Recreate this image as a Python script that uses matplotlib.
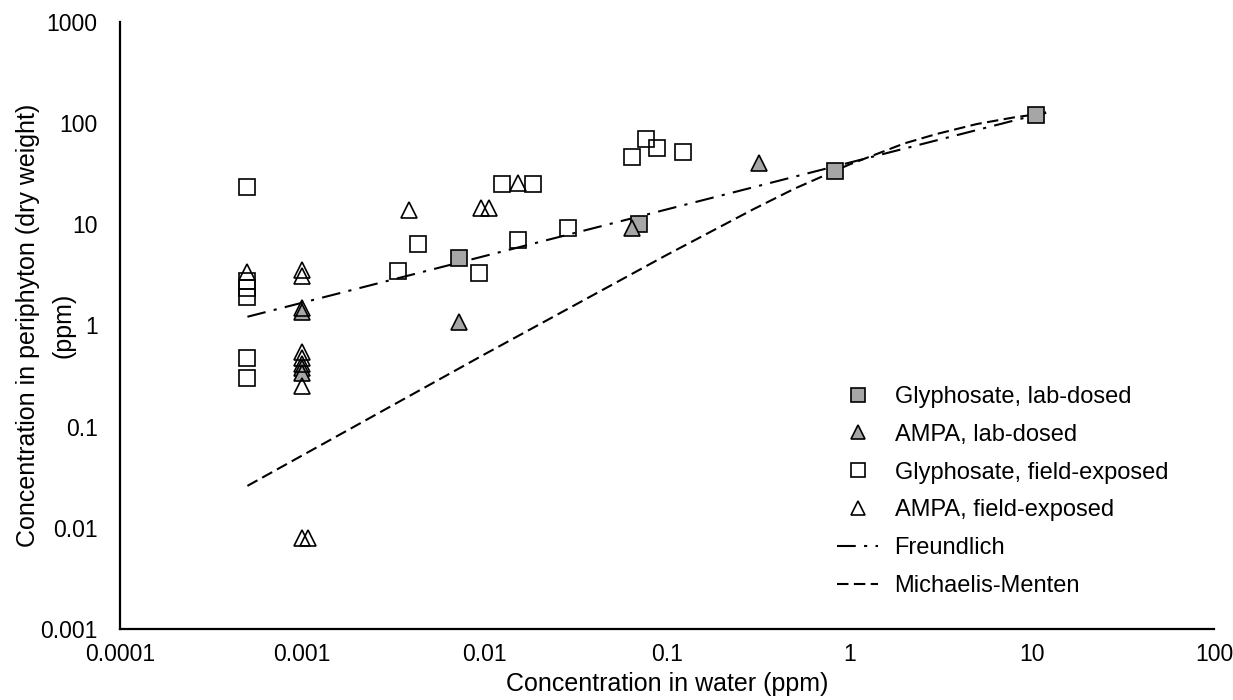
"""
Glyphosate / AMPA in periphyton vs. water, log-log scatter with fitted isotherms
"""
import matplotlib
matplotlib.use('Agg')
import matplotlib.pyplot as plt

plt.rcParams['font.family'] = ['Liberation Sans', 'DejaVu Sans']

# Lab-dosed series (grey filled)
gly_lab_x = [0.0072, 0.070, 0.835, 10.5]
gly_lab_y = [4.6, 10.1, 34, 120]

ampa_lab_x = [0.001, 0.001, 0.001, 0.0072, 0.064, 0.32]
ampa_lab_y = [1.35, 0.38, 0.34, 1.09, 9.2, 40]

# Field-exposed series (open markers)
gly_field_x = [0.0005, 0.0005, 0.0005, 0.0005, 0.0005, 0.0005,
               0.00335, 0.0043, 0.00935, 0.01245, 0.0185, 0.0152,
               0.0285, 0.0644, 0.0771, 0.088, 0.122]
gly_field_y = [23.6, 2.78, 2.34, 1.93, 0.475, 0.30,
               3.46, 6.36, 3.33, 25.1, 25.1, 7.0,
               9.15, 46, 69.3, 56.5, 51.6]

ampa_field_x = [0.0005, 0.001, 0.001, 0.001, 0.001, 0.001, 0.001, 0.001,
                0.001, 0.00107, 0.00385, 0.0095, 0.0105, 0.0153]
ampa_field_y = [3.4, 3.5, 3.1, 1.5, 0.55, 0.475, 0.42, 0.25,
                0.008, 0.008, 13.9, 14.4, 14.4, 25.5]

# Fitted curves, values
freund_x = [0.0005, 12]
freund_y = [1.22, 128]

mm_x = [0.0005, 0.001, 0.01, 0.1, 0.3, 0.5, 1, 2, 3, 5, 8, 12]
mm_y = [0.026, 0.052, 0.52, 5.0, 14.2, 22.5, 39, 63, 78, 98, 114, 126]

x_ticks = [0.0001, 0.001, 0.01, 0.1, 1, 10, 100]
x_ticklabels = ['0.0001', '0.001', '0.01', '0.1', '1', '10', '100']
y_ticks = [0.001, 0.01, 0.1, 1, 10, 100, 1000]
y_ticklabels = ['0.001', '0.01', '0.1', '1', '10', '100', '1000']

fig = plt.figure(figsize=(12.33, 7.0), dpi=100)
ax = fig.add_axes([0.0973, 0.1014, 0.8873, 0.8672])

grey = '#a6a6a6'
ms = 12
mew = 1.2

ax.plot(freund_x, freund_y, color='black', lw=1.5, dashes=(9, 4, 1.5, 4),
        label='Freundlich', zorder=2)
ax.plot(mm_x, mm_y, color='black', lw=1.5, dashes=(5.5, 2.6),
        label='Michaelis-Menten', zorder=2)

ax.plot(gly_lab_x, gly_lab_y, ls='none', marker='s', ms=ms, mfc=grey, mec='black',
        mew=mew, label='Glyphosate, lab-dosed', zorder=3)
ax.plot(ampa_lab_x, ampa_lab_y, ls='none', marker='^', ms=ms, mfc=grey, mec='black',
        mew=mew, label='AMPA, lab-dosed', zorder=3)
ax.plot(gly_field_x, gly_field_y, ls='none', marker='s', ms=ms, mfc='none', mec='black',
        mew=mew, label='Glyphosate, field-exposed', zorder=4)
ax.plot(ampa_field_x, ampa_field_y, ls='none', marker='^', ms=ms, mfc='none', mec='black',
        mew=mew, label='AMPA, field-exposed', zorder=4)

ax.set_xscale('log')
ax.set_yscale('log')
ax.set_xlim(0.0001, 100)
ax.set_ylim(0.001, 1000)
ax.set_xticks(x_ticks)
ax.set_xticklabels(x_ticklabels)
ax.set_yticks(y_ticks)
ax.set_yticklabels(y_ticklabels)
ax.minorticks_off()
ax.tick_params(axis='both', length=0, labelsize=16.5, colors='black')
ax.tick_params(axis='x', pad=10)
ax.tick_params(axis='y', pad=16)

for s in ['top', 'right']:
    ax.spines[s].set_visible(False)
for s in ['left', 'bottom']:
    ax.spines[s].set_linewidth(1.6)
    ax.spines[s].set_color('black')

ax.set_xlabel('Concentration in water (ppm)', fontsize=18)
ax.xaxis.set_label_coords(0.5, -0.071)

# y title in two lines: main line as the axis label, units line beside it
ax.set_ylabel('Concentration in periphyton (dry weight)', fontsize=18, va='center')
ax.yaxis.set_label_coords(-0.084, 0.5)
ax.text(-0.052, 0.5, '(ppm)', transform=ax.transAxes, rotation=90,
        ha='center', va='center', fontsize=18)

handles, labels = ax.get_legend_handles_labels()
order = [2, 3, 4, 5, 0, 1]
ax.legend([handles[i] for i in order], [labels[i] for i in order],
          loc='upper left', bbox_to_anchor=(0.645, 0.420), frameon=False,
          borderpad=0, fontsize=17, handlelength=1.7, handletextpad=0.72,
          labelspacing=0.67, markerscale=0.85)

fig.savefig('out.png', dpi=100, facecolor='white')
